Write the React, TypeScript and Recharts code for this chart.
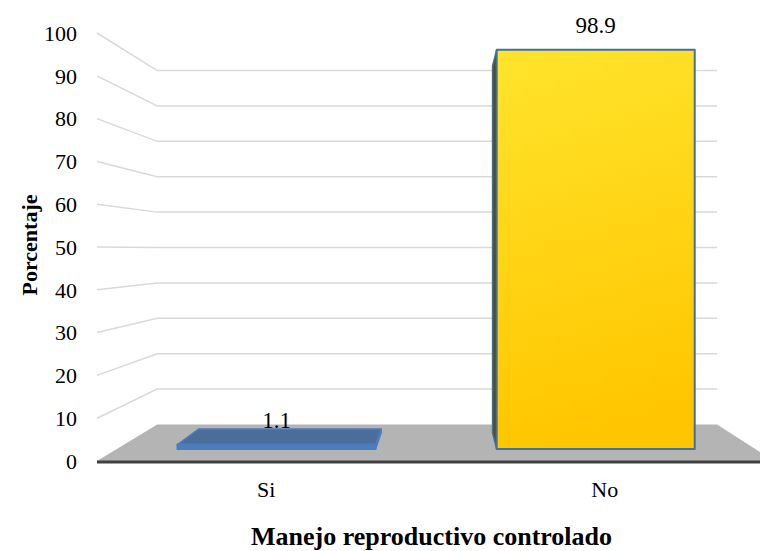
import { BarChart, Bar, XAxis, YAxis, CartesianGrid, LabelList } from 'recharts'

// categorías y porcentajes
const categories = ['Si', 'No']
const porcentaje = [1.1, 98.9]
const yTicks = [0, 10, 20, 30, 40, 50, 60, 70, 80, 90, 100]

const chartData = categories.map((cat, i) => ({ cat, pct: porcentaje[i] }))

const FONT = 'Liberation Serif'

// cámara de la vista 3D (punto de fuga) y profundidades
const VP = { x: 445, y: 250 }
const WALL_DEPTH = 0.173
const BAR_OFFSET = 0.057
const BAR_DEPTH = 0.08

type Pt = { x: number; y: number }
const proj = (p: Pt, t: number): Pt => ({ x: p.x + t * (VP.x - p.x), y: p.y + t * (VP.y - p.y) })
const pts = (list: Pt[]) => list.map((p) => `${p.x},${p.y}`).join(' ')

const barStyles = [
  { front: '#4f7dba', top: '#4a6d9c', side: '#3b5c87', stroke: '#4a7cc0' },
  { front: 'url(#yellowGrad)', top: '#ffd21a', side: '#5b4a16', stroke: '#41719c' },
]

// pared del fondo (líneas de división) y suelo gris
function GridLine(props: any) {
  const { x1, x2, y1, y, height, index } = props
  const front0 = { x: x1, y: y1 }
  const back0 = proj(front0, WALL_DEPTH)
  const back1 = proj({ x: x2, y: y1 }, WALL_DEPTH)
  const isFloor = Math.abs(y1 - (y + height)) < 0.5
  if (isFloor) {
    return (
      <g key={`g-${index}`}>
        <polygon points={pts([front0, back0, back1, { x: x2, y: y1 }])} fill="#b4b4b4" />
        <line x1={x1} y1={y1 + 1} x2={x2} y2={y1 + 1} stroke="#404040" strokeWidth={3} />
      </g>
    )
  }
  return (
    <polyline
      key={`g-${index}`}
      points={pts([front0, back0, back1])}
      fill="none"
      stroke="#d9d9d9"
      strokeWidth={1.5}
    />
  )
}

function Bar3D(props: any) {
  const { x, y, width, height, index } = props
  const s = barStyles[index]
  const A = proj({ x, y }, BAR_OFFSET)
  const B = proj({ x: x + width, y }, BAR_OFFSET)
  const C = proj({ x: x + width, y: y + height }, BAR_OFFSET)
  const D = proj({ x, y: y + height }, BAR_OFFSET)
  const A2 = proj(A, BAR_DEPTH)
  const B2 = proj(B, BAR_DEPTH)
  const C2 = proj(C, BAR_DEPTH)
  const D2 = proj(D, BAR_DEPTH)
  return (
    <g>
      <defs>
        <linearGradient id="yellowGrad" x1="0" y1="0" x2="0.15" y2="1">
          <stop offset="0%" stopColor="#ffe42c" />
          <stop offset="100%" stopColor="#ffc600" />
        </linearGradient>
      </defs>
      {A.x > VP.x && (
        <polygon points={pts([A, A2, D2, D])} fill={s.side} stroke={s.stroke} strokeWidth={1.5} strokeLinejoin="round" />
      )}
      {B.x < VP.x && (
        <polygon points={pts([B, B2, C2, C])} fill={s.side} stroke={s.stroke} strokeWidth={1.5} strokeLinejoin="round" />
      )}
      {A.y > VP.y && (
        <polygon points={pts([A, B, B2, A2])} fill={s.top} stroke={s.stroke} strokeWidth={1.5} strokeLinejoin="round" />
      )}
      <polygon points={pts([A, B, C, D])} fill={s.front} stroke={s.stroke} strokeWidth={2} strokeLinejoin="round" />
    </g>
  )
}

function ValueLabel(props: any) {
  const { x, y, width, value } = props
  const A = proj({ x, y }, BAR_OFFSET)
  const B = proj({ x: x + width, y }, BAR_OFFSET)
  return (
    <text x={(A.x + B.x) / 2} y={A.y - 17} textAnchor="middle" fontFamily={FONT} fontSize={23} fill="#000">
      {value}
    </text>
  )
}

export default function App() {
  return (
    <div style={{ position: 'absolute', left: 0, top: 0, width: 760, height: 551, overflow: 'hidden', background: '#fff' }}>
      <BarChart
        width={780}
        height={551}
        data={chartData}
        margin={{ top: 33, right: 6, left: 0, bottom: 0 }}
        barCategoryGap="19%"
      >
        <CartesianGrid vertical={false} horizontal={(p: any) => <GridLine {...p} />} />
        <XAxis
          dataKey="cat"
          axisLine={false}
          tickLine={false}
          tickSize={0}
          tickMargin={20}
          height={90}
          tick={{ fontSize: 22, fill: '#000', fontFamily: FONT }}
          label={{
            content: ({ viewBox }: any) => (
              <text
                x={viewBox.x + viewBox.width / 2 - 4}
                y={545}
                textAnchor="middle"
                fontFamily={FONT}
                fontSize={26}
                fontWeight="bold"
                fill="#000"
              >
                Manejo reproductivo controlado
              </text>
            ),
          }}
        />
        <YAxis
          domain={[0, 100]}
          ticks={yTicks}
          interval={0}
          width={97}
          axisLine={false}
          tickLine={false}
          tickSize={0}
          tickMargin={20}
          tick={{ fontSize: 22, fill: '#000', fontFamily: FONT }}
          label={{
            content: ({ viewBox }: any) => {
              const cx = 37
              const cy = viewBox.y + viewBox.height / 2 - 2
              return (
                <text
                  x={cx}
                  y={cy}
                  transform={`rotate(-90 ${cx} ${cy})`}
                  textAnchor="middle"
                  fontFamily={FONT}
                  fontSize={22}
                  fontWeight="bold"
                  fill="#000"
                >
                  Porcentaje
                </text>
              )
            },
          }}
        />
        <Bar dataKey="pct" shape={(p: any) => <Bar3D {...p} />} isAnimationActive={false}>
          <LabelList dataKey="pct" content={(p: any) => <ValueLabel {...p} />} />
        </Bar>
      </BarChart>
    </div>
  )
}
